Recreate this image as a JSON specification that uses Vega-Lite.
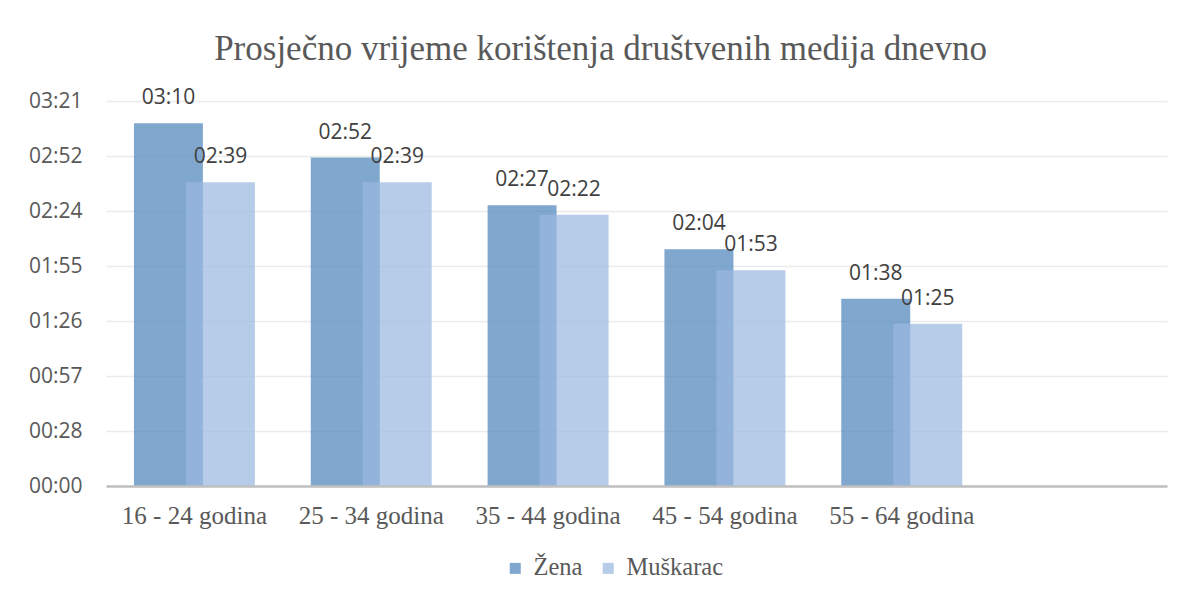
{
  "$schema": "https://vega.github.io/schema/vega-lite/v6.json",
  "width": 1061,
  "height": 385,
  "autosize": {"type": "none"},
  "padding": {"left": 106, "top": 101, "right": 22, "bottom": 106},
  "background": "white",
  "view": {"stroke": null},
  "title": {
    "text": "Prosječno vrijeme korištenja društvenih medija dnevno",
    "font": "Liberation Serif",
    "fontSize": 35,
    "fontWeight": "normal",
    "color": "#595959",
    "anchor": "middle",
    "dx": -36,
    "offset": 20
  },
  "data": {
    "values": [
      {"grupa": "16 - 24 godina", "spol": "Žena", "minute": 190, "oznaka": "03:10"},
      {"grupa": "16 - 24 godina", "spol": "Muškarac", "minute": 159, "oznaka": "02:39"},
      {"grupa": "25 - 34 godina", "spol": "Žena", "minute": 172, "oznaka": "02:52"},
      {"grupa": "25 - 34 godina", "spol": "Muškarac", "minute": 159, "oznaka": "02:39"},
      {"grupa": "35 - 44 godina", "spol": "Žena", "minute": 147, "oznaka": "02:27"},
      {"grupa": "35 - 44 godina", "spol": "Muškarac", "minute": 142, "oznaka": "02:22"},
      {"grupa": "45 - 54 godina", "spol": "Žena", "minute": 124, "oznaka": "02:04"},
      {"grupa": "45 - 54 godina", "spol": "Muškarac", "minute": 113, "oznaka": "01:53"},
      {"grupa": "55 - 64 godina", "spol": "Žena", "minute": 98, "oznaka": "01:38"},
      {"grupa": "55 - 64 godina", "spol": "Muškarac", "minute": 85, "oznaka": "01:25"}
    ]
  },
  "encoding": {
    "x": {
      "field": "grupa",
      "type": "nominal",
      "sort": null,
      "scale": {
        "domain": ["16 - 24 godina", "25 - 34 godina", "35 - 44 godina", "45 - 54 godina", "55 - 64 godina", ""],
        "paddingInner": 0,
        "paddingOuter": 0
      },
      "axis": {
        "title": null,
        "ticks": false,
        "grid": false,
        "domainColor": "#BFBFBF",
        "domainWidth": 2.5,
        "labelFont": "Liberation Serif",
        "labelFontSize": 25,
        "labelColor": "#595959",
        "labelAngle": 0,
        "labelBaseline": "alphabetic",
        "labelPadding": 37,
        "zindex": 1
      }
    },
    "y": {
      "field": "minute",
      "type": "quantitative",
      "scale": {"domain": [0, 201.6], "nice": false},
      "axis": {
        "title": null,
        "values": [0, 28.8, 57.6, 86.4, 115.2, 144, 172.8, 201.6],
        "labelExpr": "pad(toString(floor(datum.value / 60)), 2, '0', 'left') + ':' + pad(toString(floor(datum.value % 60)), 2, '0', 'left')",
        "ticks": false,
        "domain": false,
        "gridColor": "#EBEBEB",
        "gridWidth": 1.5,
        "labelFont": "Open Sans",
        "labelFontSize": 21,
        "labelColor": "#595959",
        "labelPadding": 24
      }
    },
    "color": {
      "field": "spol",
      "type": "nominal",
      "scale": {"domain": ["Žena", "Muškarac"], "range": ["#4F85BB", "#9AB8E0"]},
      "legend": {
        "title": null,
        "orient": "none",
        "legendX": 397,
        "legendY": 455,
        "direction": "horizontal",
        "symbolType": "square",
        "symbolSize": 121,
        "symbolStrokeWidth": 0,
        "labelFont": "Liberation Serif",
        "labelFontSize": 24.5,
        "labelColor": "#595959",
        "labelOffset": 6,
        "columnPadding": 13
      }
    }
  },
  "layer": [
    {
      "transform": [{"filter": "datum.spol === 'Žena'"}],
      "mark": {"type": "bar", "width": {"band": 0.39}, "xOffset": -26, "opacity": 0.72}
    },
    {
      "transform": [{"filter": "datum.spol === 'Muškarac'"}],
      "mark": {"type": "bar", "width": {"band": 0.39}, "xOffset": 26, "opacity": 0.72}
    },
    {
      "transform": [{"filter": "datum.spol === 'Žena'"}],
      "mark": {"type": "text", "xOffset": -26, "dy": -19, "baseline": "alphabetic", "font": "Open Sans", "fontSize": 21},
      "encoding": {"text": {"field": "oznaka"}, "color": {"value": "#404040"}}
    },
    {
      "transform": [{"filter": "datum.spol === 'Muškarac'"}],
      "mark": {"type": "text", "xOffset": 26, "dy": -19, "baseline": "alphabetic", "font": "Open Sans", "fontSize": 21},
      "encoding": {"text": {"field": "oznaka"}, "color": {"value": "#404040"}}
    }
  ]
}
